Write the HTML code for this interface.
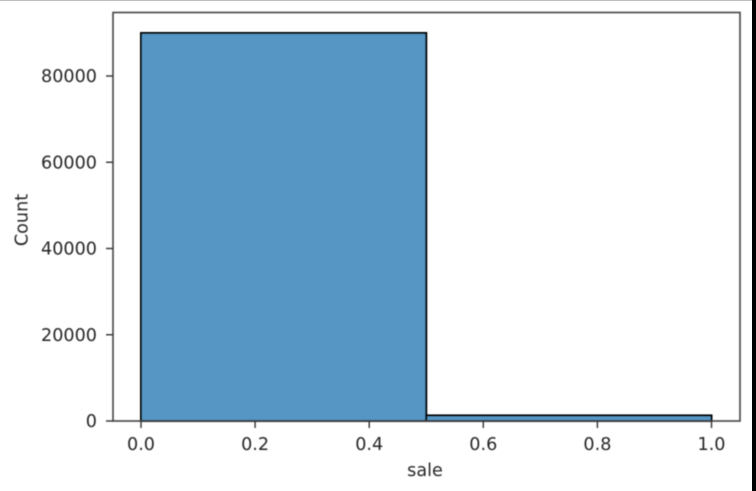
<!DOCTYPE html>
<html lang="en">
<head>
<meta charset="utf-8">
<title>Histogram of sale</title>
<style>
html,body{margin:0;padding:0;background:#fff;width:756px;height:491px;overflow:hidden}
svg{display:block}
text{font-family:"DejaVu Sans",sans-serif;font-size:17.6px;fill:#262626}
</style>
</head>
<body>
<svg id="chart" width="756" height="491" viewBox="0 0 756 491" xmlns="http://www.w3.org/2000/svg">
<defs><filter id="soft" x="-5%" y="-5%" width="110%" height="110%"><feGaussianBlur stdDeviation="0.6"/></filter></defs>
<rect x="0" y="0" width="756" height="491" fill="#fff"/>
<rect x="0" y="0" width="756" height="1" fill="#bdbdbd"/>
<rect x="752" y="0" width="4" height="491" fill="#000"/>
<g id="plot" filter="url(#soft)"></g>
</svg>
<script>
const binEdges = [0, 0.5, 1.0];
const binCounts = [89970, 1290];
const xTickLabels = ["0.0", "0.2", "0.4", "0.6", "0.8", "1.0"];
const yTickLabels = ["0", "20000", "40000", "60000", "80000"];

const NS = 'http://www.w3.org/2000/svg';
const plot = document.getElementById('plot');
const L = 113, R = 740, T = 12.5, B = 421;
const xScale = v => 141 + v * 570.5;
const yScale = v => B - v * (345 / 80000);

function add(tag, attrs, parent, content) {
  const el = document.createElementNS(NS, tag);
  for (const k in attrs) el.setAttribute(k, attrs[k]);
  if (content !== undefined) el.textContent = content;
  (parent || plot).appendChild(el);
  return el;
}

binCounts.forEach((c, i) => {
  const x0 = xScale(binEdges[i]), x1 = xScale(binEdges[i + 1]), y = yScale(c);
  const bar = add('rect', {x: x0, y: y, width: x1 - x0, height: B - y, fill: '#5596c4', stroke: '#000', 'stroke-width': 2});
  
  
});

const frame = add('rect', {x: L, y: T, width: R - L, height: B - T, fill: 'none', stroke: '#444', 'stroke-width': 1.6});



xTickLabels.forEach(t => {
  const x = xScale(parseFloat(t));
  const tick = add('line', {x1: x, x2: x, y1: B, y2: B + 7, stroke: '#333', 'stroke-width': 1.4});
  
  
  const label = add('text', {x: x, y: 450, 'text-anchor': 'middle'}, plot, t);
  
  
});

yTickLabels.forEach(t => {
  const y = yScale(parseFloat(t));
  const tick = add('line', {x1: L - 7, x2: L, y1: y, y2: y, stroke: '#333', 'stroke-width': 1.4});
  
  
  const label = add('text', {x: 97, y: y + 6, 'text-anchor': 'end'}, plot, t);
  
  
});

const xTitle = add('text', {x: 425, y: 476, 'text-anchor': 'middle'}, plot, 'sale');



const yTitle = add('text', {x: 27.5, y: 220, 'text-anchor': 'middle', transform: 'rotate(-90 27.5 220)'}, plot, 'Count');


</script>
</body>
</html>
